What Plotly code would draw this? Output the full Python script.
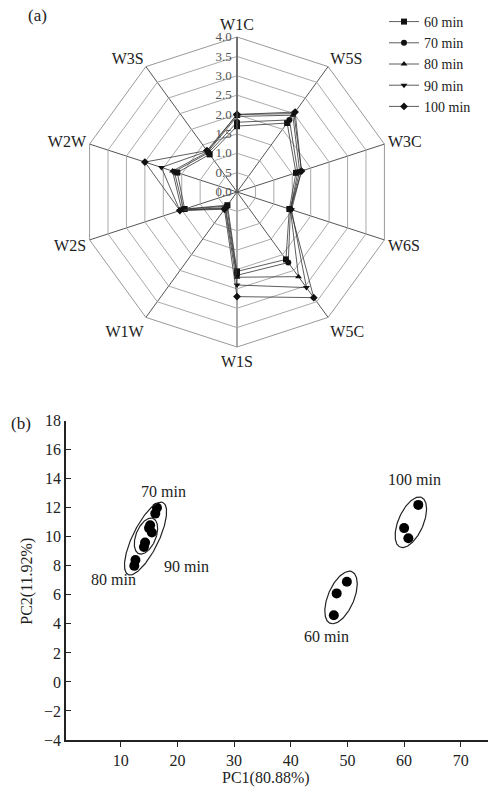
import numpy as np
import plotly.graph_objects as go

W, H = 488, 789
FONT = "Liberation Serif"

# ---------------- data: panel (a) radar ----------------
sensors = ["W1C", "W5S", "W3C", "W6S", "W5C", "W1S", "W1W", "W2S", "W2W", "W3S"]
series_names = ["60 min", "70 min", "80 min", "90 min", "100 min"]
v60 = [1.70, 2.20, 1.60, 1.42, 2.15, 2.05, 0.42, 1.42, 1.62, 1.20]
v70 = [1.80, 2.30, 1.65, 1.45, 2.25, 2.15, 0.45, 1.45, 1.70, 1.25]
v80 = [1.95, 2.45, 1.70, 1.45, 2.70, 2.20, 0.50, 1.50, 1.75, 1.28]
v90 = [2.00, 2.50, 1.75, 1.48, 3.05, 2.40, 0.52, 1.55, 2.05, 1.30]
v100 = [2.00, 2.55, 1.75, 1.45, 3.37, 2.70, 0.55, 1.55, 2.50, 1.32]
radial_ticks = [0.0, 0.5, 1.0, 1.5, 2.0, 2.5, 3.0, 3.5, 4.0]

# ---------------- data: panel (b) PCA ----------------
groups = ["60 min", "70 min", "80 min", "90 min", "100 min"]
pc1_60 = [49.9, 48.1, 47.6]
pc2_60 = [6.9, 6.1, 4.6]
pc1_70 = [16.4, 16.1, 15.2]
pc2_70 = [12.0, 11.6, 10.8]
pc1_80 = [14.1, 12.6, 12.4]
pc2_80 = [9.3, 8.4, 8.0]
pc1_90 = [15.0, 15.5, 14.3]
pc2_90 = [10.6, 10.3, 9.6]
pc1_100 = [62.5, 60.0, 60.75]
pc2_100 = [12.2, 10.6, 9.9]

# group label positions (PC1, PC2)
label_text = ["70 min", "80 min", "90 min", "100 min", "60 min"]
label_x = [17.5, 8.7, 21.6, 61.9, 46.3]
label_y = [13.1, 7.06, 7.98, 13.96, 3.1]

# confidence ellipses: centre (PC1, PC2), semi-axes (px), tilt from vertical (deg)
ell_cx = [14.38, 14.46, 48.87, 61.19]
ell_cy = [9.88, 10.05, 5.82, 11.0]
ell_a = [40, 19, 28, 27]
ell_b = [13, 10, 13, 12.5]
ell_tilt = [26, 22, 23, 23.5]

x_ticks = [10, 20, 30, 40, 50, 60, 70]
y_ticks = list(range(-4, 19, 2))

# ---------------- layout geometry ----------------
xr = [0.35, 74.8]
yr = [-4, 18]
px_left, px_right = 66, 488
py_top, py_bot = 420.7, 740
ppx = (px_right - px_left) / (xr[1] - xr[0])
ppy = (py_bot - py_top) / (yr[1] - yr[0])

cx_a, cy_a, r_a = 237, 192, 155

fig = go.Figure()

symbols = ["square", "circle", "triangle-up", "triangle-down", "diamond"]
msizes = [6, 6, 6, 6, 6]
for name, vals, sym, ms in zip(series_names, [v60, v70, v80, v90, v100], symbols, msizes):
    fig.add_trace(go.Scatterpolar(
        r=vals + [vals[0]], theta=sensors + [sensors[0]],
        mode="lines+markers", name=name,
        line=dict(color="#333333", width=0.8),
        marker=dict(symbol=sym, size=ms, color="#111111"),
        subplot="polar",
    ))

pcx = [pc1_60, pc1_70, pc1_80, pc1_90, pc1_100]
pcy = [pc2_60, pc2_70, pc2_80, pc2_90, pc2_100]
for g, xs, ys in zip(groups, pcx, pcy):
    fig.add_trace(go.Scatter(
        x=xs, y=ys, mode="markers", showlegend=False, name=g,
        marker=dict(size=10, color="black"),
        xaxis="x", yaxis="y",
    ))

s = np.linspace(0, 2 * np.pi, 200)
for cx, cy, a, b, t in zip(ell_cx, ell_cy, ell_a, ell_b, ell_tilt):
    tr = np.deg2rad(t)
    ux, uy = np.sin(tr), np.cos(tr)
    vx, vy = np.cos(tr), -np.sin(tr)
    dx = a * np.cos(s) * ux + b * np.sin(s) * vx
    dy = a * np.cos(s) * uy + b * np.sin(s) * vy
    fig.add_trace(go.Scatter(
        x=cx + dx / ppx, y=cy + dy / ppy, mode="lines", showlegend=False,
        line=dict(color="#222222", width=1.2), hoverinfo="skip",
        xaxis="x", yaxis="y",
    ))

annotations = []
for t, x, y in zip(label_text, label_x, label_y):
    annotations.append(dict(x=x, y=y, xref="x", yref="y", text=t, showarrow=False,
                            xanchor="center", yanchor="middle",
                            font=dict(family=FONT, size=16, color="#222")))
annotations += [
    dict(x=37 / W, y=1 - 15 / H, xref="paper", yref="paper", text="(a)", showarrow=False,
         xanchor="center", yanchor="middle", font=dict(family=FONT, size=17, color="#222")),
    dict(x=21 / W, y=1 - 423 / H, xref="paper", yref="paper", text="(b)", showarrow=False,
         xanchor="center", yanchor="middle", font=dict(family=FONT, size=17, color="#222")),
    dict(x=265.7 / W, y=1 - 778 / H, xref="paper", yref="paper", text="PC1(80.88%)",
         xanchor="center", yanchor="middle",
         showarrow=False, font=dict(family=FONT, size=16, color="#222")),
    dict(x=26.7 / W, y=1 - 581 / H, xref="paper", yref="paper", text="PC2(11.92%)",
         xanchor="center", yanchor="middle",
         showarrow=False, textangle=-90, font=dict(family=FONT, size=16, color="#222")),
]

fig.update_layout(
    width=W, height=H,
    margin=dict(l=0, r=0, t=0, b=0, autoexpand=False),
    paper_bgcolor="white", plot_bgcolor="white",
    font=dict(family=FONT, size=16, color="#222"),
    showlegend=True,
    legend=dict(x=384 / W, y=1 - 6 / H, xanchor="left", yanchor="top",
                bgcolor="rgba(0,0,0,0)", font=dict(family=FONT, size=14, color="#222"),
                tracegroupgap=0),
    polar=dict(
        domain=dict(x=[(cx_a - r_a) / W, (cx_a + r_a) / W],
                    y=[1 - (cy_a + r_a) / H, 1 - (cy_a - r_a) / H]),
        bgcolor="white",
        gridshape="linear",
        angularaxis=dict(direction="clockwise", rotation=90, type="category",
                         categoryarray=sensors, categoryorder="array",
                         showline=True, linecolor="#999", linewidth=1,
                         gridcolor="#555", gridwidth=1.3, ticks="",
                         tickfont=dict(family=FONT, size=16, color="#222")),
        radialaxis=dict(range=[0, 4], tickvals=radial_ticks, tickformat=".1f",
                        angle=90, tickangle=90, side="counterclockwise",
                        showline=True, linecolor="#555", linewidth=1.3,
                        gridcolor="#aaa", gridwidth=1, ticks="",
                        tickfont=dict(family=FONT, size=13, color="#555")),
    ),
    xaxis=dict(domain=[px_left / W, 1.0], range=xr, tickvals=x_ticks,
               showline=True, linecolor="#222", linewidth=1.6, mirror=False,
               ticks="outside", ticklen=5, tickwidth=1.3, tickcolor="#222",
               showgrid=False, zeroline=False,
               tickfont=dict(family=FONT, size=16, color="#222")),
    yaxis=dict(domain=[1 - py_bot / H, 1 - py_top / H], range=yr, tickvals=y_ticks,
               showline=True, linecolor="#222", linewidth=1.6, mirror=False,
               ticks="inside", ticklen=5, tickwidth=1.3, tickcolor="#222",
               showgrid=False, zeroline=False,
               tickfont=dict(family=FONT, size=16, color="#222")),
    annotations=annotations,
)

fig.write_html("out.html", config={"displayModeBar": False},
               post_script="document.body.style.margin='0px';document.body.style.overflow='hidden';")
